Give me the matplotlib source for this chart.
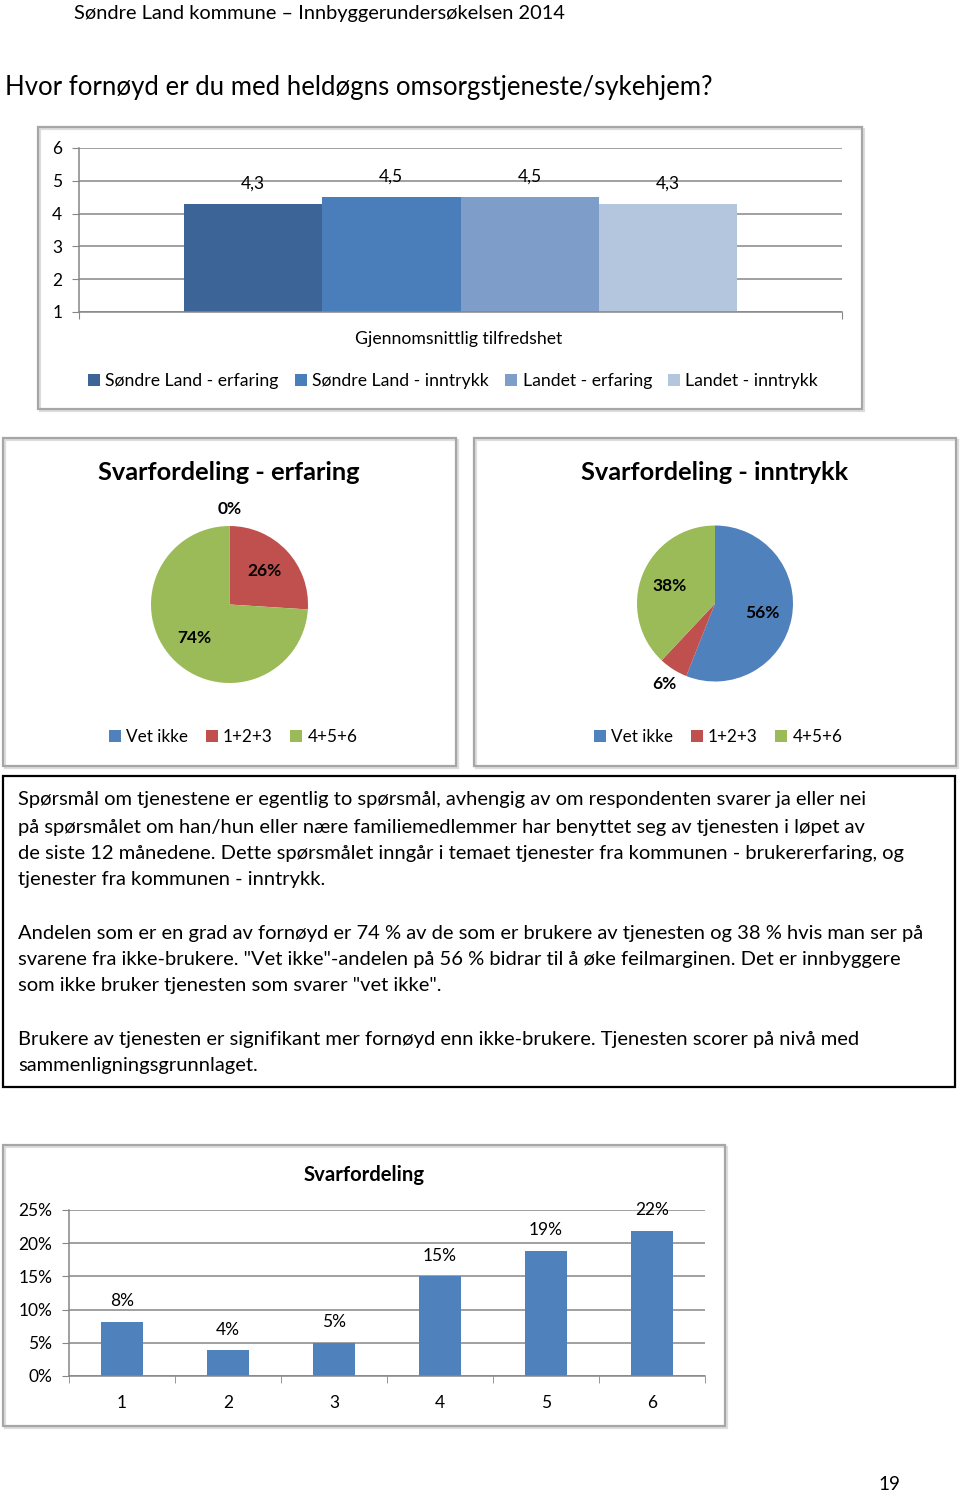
import matplotlib
matplotlib.use('Agg')
import matplotlib.pyplot as plt
from matplotlib.patches import Rectangle, Patch
import numpy as np

W, H = 960, 1491
FONT = ['Lato', 'DejaVu Sans']
plt.rcParams['font.family'] = FONT

# ---------------- data ----------------
header_text = "Søndre Land kommune – Innbyggerundersøkelsen 2014"
question = "Hvor fornøyd er du med heldøgns omsorgstjeneste/sykehjem?"

avg_category = "Gjennomsnittlig tilfredshet"
avg_series = ["Søndre Land - erfaring", "Søndre Land - inntrykk",
              "Landet - erfaring", "Landet - inntrykk"]
avg_values = [4.3, 4.5, 4.5, 4.3]
avg_yticks = [1, 2, 3, 4, 5, 6]

pie_categories = ["Vet ikke", "1+2+3", "4+5+6"]
pie_erfaring = [0, 26, 74]
pie_inntrykk = [56, 6, 38]
pie_titles = ["Svarfordeling - erfaring", "Svarfordeling - inntrykk"]

dist_title = "Svarfordeling"
dist_categories = ["1", "2", "3", "4", "5", "6"]
dist_values = [8.2, 3.9, 5.0, 15.0, 18.9, 21.9]
dist_yticks = [0, 5, 10, 15, 20, 25]

body_paragraphs = [
    ["Spørsmål om tjenestene er egentlig to spørsmål, avhengig av om respondenten svarer ja eller nei",
     "på spørsmålet om han/hun eller nære familiemedlemmer har benyttet seg av tjenesten i løpet av",
     "de siste 12 månedene. Dette spørsmålet inngår i temaet tjenester fra kommunen - brukererfaring, og",
     "tjenester fra kommunen - inntrykk."],
    ["Andelen som er en grad av fornøyd er 74 % av de som er brukere av tjenesten og 38 % hvis man ser på",
     "svarene fra ikke-brukere. \"Vet ikke\"-andelen på 56 % bidrar til å øke feilmarginen. Det er innbyggere",
     "som ikke bruker tjenesten som svarer \"vet ikke\"."],
    ["Brukere av tjenesten er signifikant mer fornøyd enn ikke-brukere. Tjenesten scorer på nivå med",
     "sammenligningsgrunnlaget."],
]
page_number = "19"

# ---------------- styles ----------------
avg_colors = ['#3C6496', '#4A7EBB', '#7E9DC8', '#B4C5DE']
pie_colors = ['#4F81BD', '#C0504D', '#9BBB59']
dist_color = '#4F81BD'
grid_color = '#868686'
frame_color = '#A6A6A6'
DY = 2  # small vertical nudge for centred texts

fig = plt.figure(figsize=(W / 100, H / 100), dpi=100)


def add_ax(x0, y0, x1, y1):
    ax = fig.add_axes([x0 / W, 1 - y1 / H, (x1 - x0) / W, (y1 - y0) / H])
    return ax


bg = add_ax(0, 0, W, H)
bg.set_xlim(0, W)
bg.set_ylim(H, 0)
bg.axis('off')
bg.set_zorder(0)


def frame(x0, y0, x1, y1, color=frame_color, lw=1.6, shadow=True):
    if shadow:
        bg.add_patch(Rectangle((x0 + 2, y0 + 2), x1 - x0, y1 - y0, fill=False,
                               ec='#DDDDDD', lw=lw))
    bg.add_patch(Rectangle((x0, y0), x1 - x0, y1 - y0, fill=False, ec=color, lw=lw))


# header and question
bg.text(74, 12 + DY, header_text, fontsize=14.4, va='center', ha='left')
bg.text(5, 86 + DY, question, fontsize=18.5, va='center', ha='left')

# ---------------- chart 1 ----------------
frame(38, 127, 862, 409)
ax1 = add_ax(79, 148, 842, 312)
ax1.set_zorder(1)
ax1.patch.set_visible(False)
n = len(avg_values)
w = 0.1815
offs = (np.arange(n) - (n - 1) / 2) * w
handles = []
for i in range(n):
    b = ax1.bar(offs[i], avg_values[i], width=w, color=avg_colors[i],
                zorder=2, linewidth=0)
    ax1.bar_label(b, labels=[f"{avg_values[i]:.1f}".replace('.', ',')],
                  padding=9, fontsize=12.5)
    handles.append(Patch(facecolor=avg_colors[i], label=avg_series[i]))
ax1.set_xlim(-0.5, 0.5)
ax1.set_ylim(1, 6)
ax1.set_yticks(avg_yticks)
ax1.yaxis.grid(True, color=grid_color, lw=1.1, zorder=0)
ax1.set_axisbelow(True)
for s in ['top', 'right']:
    ax1.spines[s].set_visible(False)
for s in ['left', 'bottom']:
    ax1.spines[s].set_color(grid_color)
    ax1.spines[s].set_linewidth(1.1)
ax1.tick_params(axis='y', length=5, color=grid_color, labelsize=12.5, pad=7)
ax1.set_xticks([-0.5, 0.5])
ax1.set_xticklabels(['', ''])
ax1.tick_params(axis='x', length=5, color=grid_color)
bg.text(459, 337 + DY, avg_category, fontsize=12.7, ha='center', va='center')
fig.legend(handles=handles, loc='center', bbox_to_anchor=(453 / W, 1 - (379 + DY) / H),
           ncol=4, frameon=False, fontsize=12.7, handlelength=0.7, handleheight=0.7,
           handletextpad=0.3, columnspacing=0.9)

# ---------------- pies ----------------
frame(3, 438, 456, 766)
frame(474, 438, 956, 766)


def draw_pie(cx, cy, r, values, title, title_x, legend_x):
    ax = add_ax(cx - r, cy - r, cx + r, cy + r)
    ax.set_zorder(1)
    ax.pie(values, colors=pie_colors, startangle=90, counterclock=False, radius=1,
           wedgeprops=dict(linewidth=0))
    ax.set_xlim(-1, 1)
    ax.set_ylim(-1, 1)
    total = float(sum(values))
    cum = 0.0
    for v in values:
        frac = v / total
        ang = np.deg2rad(90 - (cum + v / 2) / total * 360)
        rr = 0.62 if frac >= 0.1 else 1.22
        ax.text(rr * np.cos(ang), rr * np.sin(ang), f"{frac * 100:.0f}%",
                ha='center', va='center', fontsize=12.5, fontweight='bold', clip_on=False)
        cum += v
    bg.text(title_x, 470 + DY, title, fontsize=18.3, fontweight='bold', ha='center', va='center')
    hs = [Patch(facecolor=c, label=l) for c, l in zip(pie_colors, pie_categories)]
    fig.legend(handles=hs, loc='center', bbox_to_anchor=(legend_x / W, 1 - (735 + DY) / H),
               ncol=3, frameon=False, fontsize=12.3, handlelength=0.7, handleheight=0.7,
               handletextpad=0.3, columnspacing=1.05)


draw_pie(229.5, 604.5, 78.5, pie_erfaring, pie_titles[0], 229, 233)
draw_pie(715, 603.5, 78, pie_inntrykk, pie_titles[1], 715, 718)

# ---------------- text box ----------------
bg.add_patch(Rectangle((3, 776), 952, 311, fill=False, ec='black', lw=1.6))
para_y = [[798, 825, 851, 878], [931, 957, 984], [1037, 1064]]
for lines, ys in zip(body_paragraphs, para_y):
    for line, y in zip(lines, ys):
        bg.text(18, y + DY, line, fontsize=14.5, ha='left', va='center')

# ---------------- distribution chart ----------------
frame(3, 1145, 725, 1426)
ax3 = add_ax(69, 1210, 705, 1376)
ax3.set_zorder(1)
ax3.patch.set_visible(False)
xs = np.arange(1, len(dist_values) + 1)
bars = ax3.bar(xs, dist_values, width=0.395, color=dist_color, zorder=2, linewidth=0)
ax3.bar_label(bars, labels=[f"{v:.0f}%" for v in dist_values], padding=9, fontsize=12.5)
ax3.set_xlim(0.5, len(dist_values) + 0.5)
ax3.set_ylim(0, 25)
ax3.set_yticks(dist_yticks)
ax3.set_yticklabels([f"{v}%" for v in dist_yticks])
ax3.yaxis.grid(True, color=grid_color, lw=1.1, zorder=0)
ax3.set_axisbelow(True)
for s in ['top', 'right']:
    ax3.spines[s].set_visible(False)
for s in ['left', 'bottom']:
    ax3.spines[s].set_color(grid_color)
    ax3.spines[s].set_linewidth(1.1)
ax3.tick_params(axis='y', length=5, color=grid_color, labelsize=12.5, pad=7)
ax3.set_xticks(xs)
ax3.set_xticklabels(dist_categories)
ax3.set_xticks(np.arange(0.5, len(dist_values) + 1), minor=True)
ax3.tick_params(axis='x', which='major', length=0, labelsize=12.5, pad=14)
ax3.tick_params(axis='x', which='minor', length=5, color=grid_color)
bg.text(364, 1173 + DY, dist_title, fontsize=14.6, fontweight='bold', ha='center', va='center')

bg.text(889, 1482 + DY, page_number, fontsize=13.5, ha='center', va='center')

fig.savefig('out.png', dpi=100)
